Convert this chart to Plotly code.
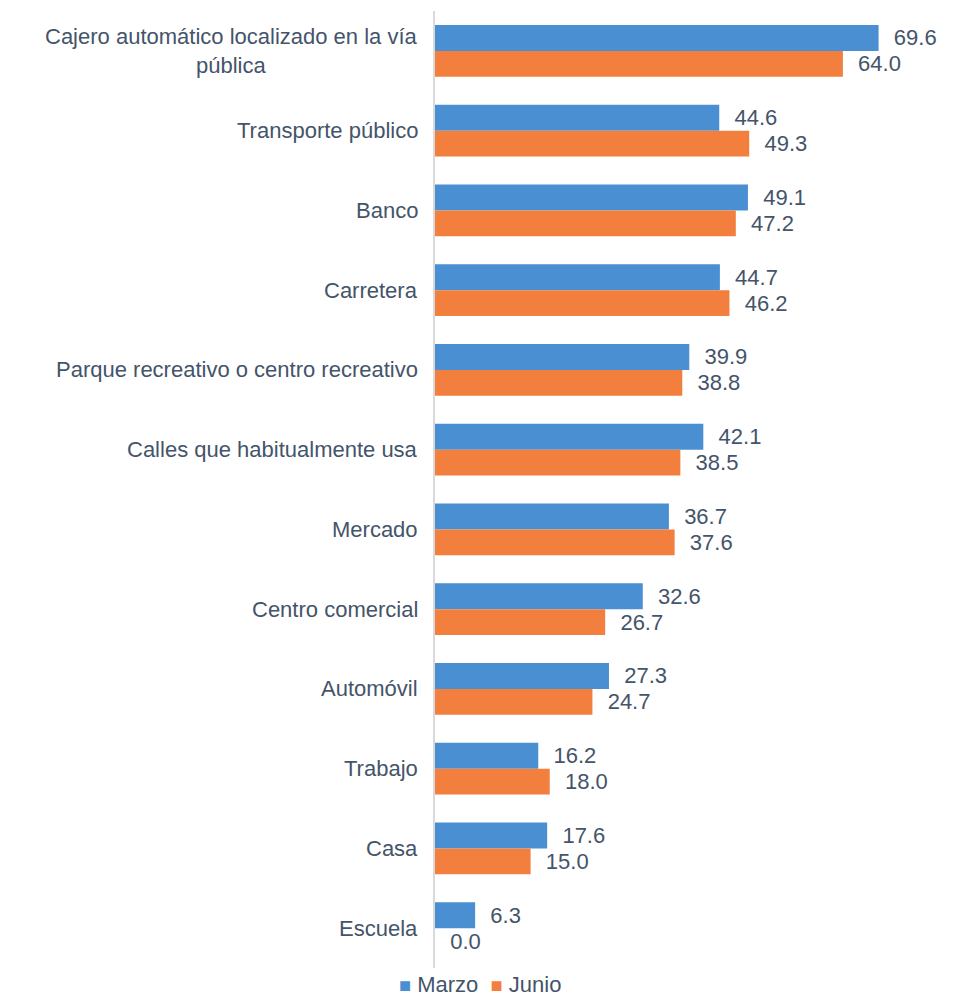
import plotly.graph_objects as go

categories = [
    "Cajero automático localizado en la vía<br>pública",
    "Transporte público",
    "Banco",
    "Carretera",
    "Parque recreativo o centro recreativo",
    "Calles que habitualmente usa",
    "Mercado",
    "Centro comercial",
    "Automóvil",
    "Trabajo",
    "Casa",
    "Escuela",
]
marzo = [69.6, 44.6, 49.1, 44.7, 39.9, 42.1, 36.7, 32.6, 27.3, 16.2, 17.6, 6.3]
junio = [64.0, 49.3, 47.2, 46.2, 38.8, 38.5, 37.6, 26.7, 24.7, 18.0, 15.0, 0.0]
series = [("Marzo", marzo, "#4a8fd1"), ("Junio", junio, "#f27f3d")]

TEXT = "#44546a"
FONT = "Liberation Sans, Arial, sans-serif"
W, H = 942, 991
ML, MR, MT, MB = 427, 37, 3, 31

fig = go.Figure()
for name, vals, color in series:
    fig.add_trace(go.Bar(
        y=categories, x=vals, name=name, orientation="h",
        marker=dict(color=color, line=dict(width=0)),
        text=vals, texttemplate="\u00a0\u00a0%{x:.1f}",
        textposition="outside", cliponaxis=False,
        textfont=dict(color=TEXT, size=22, family=FONT),
    ))

# category labels as annotations so the wrapped label is centred
for cat in categories:
    fig.add_annotation(
        x=0, xref="paper", y=cat, yref="y",
        text=cat, showarrow=False, xanchor="right", xshift=-15,
        align="center", font=dict(color=TEXT, size=22, family=FONT),
    )

# legend drawn as text so it does not shrink the plot area
legend_text = "\u00a0\u00a0".join(
    f'<span style="color:{c};font-size:20px">\u25a0</span>\u00a0{n}' for n, _, c in series
)
plot_w = W - ML - MR
plot_h = H - MT - MB
fig.add_annotation(
    x=(W / 2 + 1 - ML) / plot_w, xref="paper", xanchor="center",
    y=-MB / plot_h, yref="paper", yanchor="bottom",
    text=legend_text, showarrow=False,
    font=dict(color=TEXT, size=22, family=FONT),
)

fig.update_layout(
    width=W, height=H,
    paper_bgcolor="white", plot_bgcolor="white",
    barmode="group", bargap=0.35, bargroupgap=0,
    margin=dict(l=ML, r=MR, t=MT, b=MB),
    font=dict(family=FONT, color=TEXT, size=22),
    showlegend=False,
)
fig.update_xaxes(range=[0, 75], visible=False, showgrid=False, zeroline=False)
fig.update_yaxes(
    autorange="reversed", showticklabels=False, showgrid=False,
    showline=True, linecolor="#d9d9d9", linewidth=2, ticks="",
    zeroline=False,
)

fig.write_html("out.html")
